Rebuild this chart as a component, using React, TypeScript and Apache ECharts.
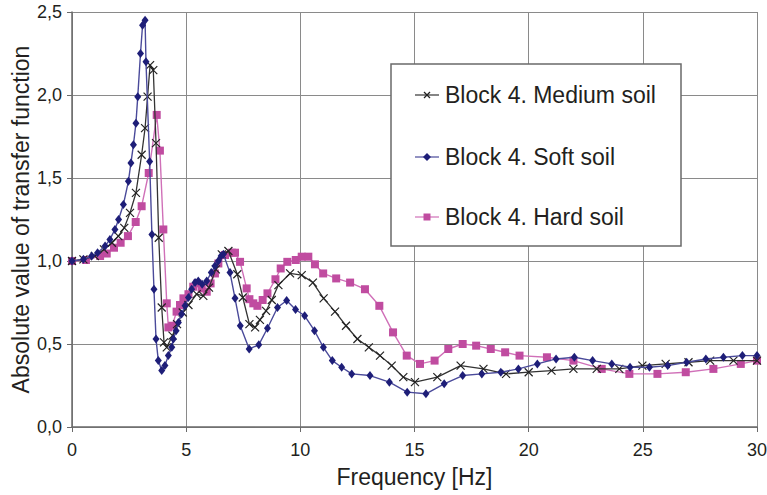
import React, { useEffect, useRef } from "react";
import * as echarts from "echarts";

// Block 4. Medium soil (black, x markers)
const mediumFreq = [0, 0.5, 1.0, 1.4, 1.75, 2.03, 2.29, 2.54, 2.8, 3.05, 3.2, 3.31, 3.42, 3.56, 3.68, 3.8, 3.93, 4.03, 4.15, 4.4, 4.6, 4.85, 5.1, 5.46, 5.75, 6.0, 6.3, 6.56, 6.85, 7.24, 7.48, 7.77, 8.02, 8.23, 8.5, 8.75, 9.04, 9.55, 10.06, 10.55, 11.02, 11.52, 12.0, 12.5, 13.0, 13.49, 14.0, 14.51, 15.02, 16.0, 17.02, 18.02, 19.01, 20.0, 21.0, 21.96, 22.98, 23.97, 24.98, 26.0, 27.0, 27.95, 28.97, 30.0];
const mediumVal = [1.0, 1.01, 1.03, 1.07, 1.11, 1.15, 1.2, 1.29, 1.41, 1.64, 1.8, 1.99, 2.18, 2.15, 1.71, 1.14, 0.72, 0.51, 0.48, 0.55, 0.62, 0.69, 0.735, 0.8, 0.79, 0.84, 0.95, 1.04, 1.06, 0.92, 0.78, 0.62, 0.6, 0.645, 0.7, 0.765, 0.855, 0.925, 0.915, 0.87, 0.775, 0.695, 0.61, 0.53, 0.48, 0.43, 0.37, 0.3, 0.27, 0.3, 0.37, 0.35, 0.32, 0.33, 0.34, 0.35, 0.35, 0.35, 0.37, 0.38, 0.39, 0.4, 0.4, 0.4];

// Block 4. Soft soil (navy, diamonds)
const softFreq = [0, 0.5, 0.86, 1.12, 1.45, 1.66, 1.88, 2.04, 2.25, 2.47, 2.58, 2.69, 2.8, 2.88, 3.0, 3.09, 3.2, 3.24, 3.4, 3.5, 3.59, 3.68, 3.78, 3.93, 4.07, 4.22, 4.37, 4.44, 4.56, 4.66, 4.8, 4.95, 5.1, 5.24, 5.39, 5.53, 5.7, 5.9, 6.1, 6.26, 6.41, 6.53, 6.63, 6.92, 7.14, 7.37, 7.76, 8.18, 8.56, 9.0, 9.4, 9.79, 10.19, 10.62, 11.01, 11.4, 11.81, 12.25, 13.05, 13.9, 14.68, 15.5, 16.3, 17.11, 17.95, 18.78, 19.55, 20.38, 21.2, 22.0, 22.8, 23.64, 24.44, 25.29, 26.09, 26.92, 27.76, 28.53, 29.36, 30.0];
const softVal = [1.0, 1.01, 1.03, 1.05, 1.09, 1.13, 1.19, 1.25, 1.34, 1.48, 1.59, 1.7, 1.83, 1.99, 2.25, 2.42, 2.45, 2.2, 1.6, 1.16, 0.83, 0.53, 0.4, 0.34, 0.37, 0.43, 0.48, 0.53, 0.58, 0.63, 0.68, 0.73, 0.78, 0.83, 0.87, 0.88, 0.86, 0.88, 0.93, 0.97, 1.0, 1.03, 1.04, 0.93, 0.775, 0.61, 0.47, 0.495, 0.595, 0.72, 0.762, 0.708, 0.67, 0.58, 0.48, 0.4, 0.36, 0.32, 0.31, 0.27, 0.21, 0.2, 0.26, 0.31, 0.32, 0.33, 0.35, 0.38, 0.41, 0.42, 0.4, 0.38, 0.36, 0.36, 0.37, 0.39, 0.41, 0.42, 0.43, 0.43];

// Block 4. Hard soil (magenta, squares)
const hardFreq = [0, 0.61, 1.23, 1.52, 1.84, 2.13, 2.45, 2.79, 3.05, 3.36, 3.71, 3.85, 4.0, 4.15, 4.22, 4.39, 4.58, 4.73, 4.88, 5.1, 5.31, 5.49, 5.68, 5.9, 6.07, 6.26, 6.41, 6.7, 7.0, 7.14, 7.36, 7.65, 7.77, 7.94, 8.12, 8.35, 8.56, 8.91, 9.14, 9.43, 9.8, 10.06, 10.35, 10.64, 11.0, 11.57, 12.18, 12.83, 13.46, 14.06, 14.66, 15.24, 15.88, 16.48, 17.11, 17.7, 18.34, 18.97, 19.6, 20.8, 21.96, 23.2, 24.41, 25.64, 26.88, 28.09, 29.29, 30.0];
const hardVal = [1.0, 1.006, 1.03, 1.045, 1.08, 1.11, 1.15, 1.235, 1.33, 1.53, 1.88, 1.665, 1.19, 0.745, 0.6, 0.61, 0.695, 0.735, 0.775, 0.8, 0.845, 0.865, 0.835, 0.815, 0.865, 0.925, 0.985, 1.036, 1.05, 1.05, 0.995, 0.835, 0.77, 0.745, 0.73, 0.765, 0.805, 0.89, 0.955, 0.995, 1.006, 1.026, 1.026, 0.98, 0.925, 0.895, 0.87, 0.83, 0.73, 0.57, 0.43, 0.38, 0.4, 0.47, 0.5, 0.49, 0.47, 0.45, 0.43, 0.42, 0.4, 0.35, 0.32, 0.32, 0.33, 0.35, 0.38, 0.4];

const legendNames = ["Block 4. Medium soil", "Block 4. Soft soil", "Block 4. Hard soil"];
const xTitle = "Frequency [Hz]";
const yTitle = "Absolute value of transfer function";

const FONT = "'Liberation Sans', Arial, Helvetica, sans-serif";
const TEXT = "#231f20";
const GRID = "#8a8a8a";

const zip = (f: number[], v: number[]) => f.map((x, i) => [x, v[i]]);

export default function App() {
  const ref = useRef<HTMLDivElement>(null);
  useEffect(() => {
    if (!ref.current) return;
    const chart = echarts.init(ref.current, undefined, { renderer: "svg" });

    const lx1 = 415, lx2 = 439, tx = 445;
    const rows = [95, 157, 217];
    const legendEls: any[] = [
      { type: "rect", shape: { x: 391, y: 64, width: 290, height: 182 }, style: { fill: "#fff", stroke: "#6a6a6a", lineWidth: 1.5 }, z: 100 },
    ];
    const lineCols = ["#333333", "#4a4a9a", "#d070b8"];
    rows.forEach((y, i) => {
      legendEls.push({ type: "line", shape: { x1: lx1, y1: y, x2: lx2, y2: y }, style: { stroke: lineCols[i], lineWidth: 1.2 }, z: 101 });
      legendEls.push({ type: "text", x: tx, y: y, style: { text: legendNames[i], fill: TEXT, font: `23px ${FONT}`, textVerticalAlign: "middle", verticalAlign: "middle" }, z: 101 });
    });
    const mx = 427;
    legendEls.push({ type: "line", shape: { x1: mx - 3, y1: rows[0] - 3, x2: mx + 3, y2: rows[0] + 3 }, style: { stroke: "#222", lineWidth: 1.2 }, z: 102 });
    legendEls.push({ type: "line", shape: { x1: mx - 3, y1: rows[0] + 3, x2: mx + 3, y2: rows[0] - 3 }, style: { stroke: "#222", lineWidth: 1.2 }, z: 102 });
    legendEls.push({ type: "polygon", shape: { points: [[mx, rows[1] - 4], [mx + 4, rows[1]], [mx, rows[1] + 4], [mx - 4, rows[1]]] }, style: { fill: "#1e1e78" }, z: 102 });
    legendEls.push({ type: "rect", shape: { x: mx - 3.5, y: rows[2] - 3.5, width: 7, height: 7 }, style: { fill: "#c04ca0" }, z: 102 });

    chart.setOption({
      animation: false,
      backgroundColor: "#fff",
      grid: { left: 72, top: 12, width: 685, height: 415, containLabel: false, outerBoundsMode: "none" },
      xAxis: {
        type: "value",
        min: 0,
        max: 30,
        interval: 5,
        name: xTitle,
        nameLocation: "middle",
        nameGap: 38,
        nameMoveOverlap: false,
        nameTextStyle: { fontFamily: FONT, fontSize: 23, color: TEXT },
        axisLine: { show: true, onZero: false, lineStyle: { color: "#6a6a6a", width: 1.5 } },
        axisTick: { show: true, length: 5, lineStyle: { color: "#6a6a6a" } },
        axisLabel: { margin: 14, fontFamily: FONT, fontSize: 18, color: TEXT },
        splitLine: { show: true, lineStyle: { color: GRID, width: 1 } },
      },
      yAxis: {
        type: "value",
        min: 0,
        max: 2.5,
        interval: 0.5,
        name: yTitle,
        nameLocation: "middle",
        nameGap: 40,
        nameMoveOverlap: false,
        nameRotate: 90,
        nameTextStyle: { fontFamily: FONT, fontSize: 23, color: TEXT },
        axisLine: { show: true, lineStyle: { color: "#6a6a6a", width: 1.5 } },
        axisTick: { show: true, length: 5, lineStyle: { color: "#6a6a6a" } },
        axisLabel: {
          margin: 10,
          fontFamily: FONT,
          fontSize: 18,
          color: TEXT,
          formatter: (v: number) => v.toFixed(1).replace(".", ","),
        },
        splitLine: { show: true, lineStyle: { color: GRID, width: 1 } },
      },
      series: [
        {
          name: legendNames[2],
          type: "line",
          data: zip(hardFreq, hardVal),
          symbol: "rect",
          symbolSize: 8,
          itemStyle: { color: "#c04ca0" },
          lineStyle: { color: "#d070b8", width: 1.4 },
          z: 3,
        },
        {
          name: legendNames[0],
          type: "line",
          data: zip(mediumFreq, mediumVal),
          symbol: "path://M0,0L10,10M0,10L10,0",
          symbolSize: 8,
          itemStyle: { color: "#222", borderColor: "#222", borderWidth: 1.2 },
          lineStyle: { color: "#333", width: 1.3 },
          z: 4,
        },
        {
          name: legendNames[1],
          type: "line",
          data: zip(softFreq, softVal),
          symbol: "diamond",
          symbolSize: [7, 9],
          itemStyle: { color: "#1e1e78" },
          lineStyle: { color: "#4a4a9a", width: 1.4 },
          z: 5,
        },
      ],
      graphic: legendEls,
    });
    return () => chart.dispose();
  }, []);
  return (
    <div
      ref={ref}
      style={{ position: "fixed", left: 0, top: 0, width: 767, height: 495, background: "#fff" }}
    />
  );
}
